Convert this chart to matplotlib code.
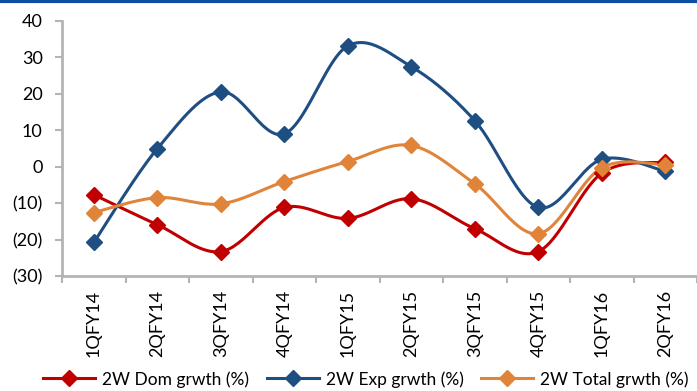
import numpy as np
import matplotlib.pyplot as plt
from matplotlib.lines import Line2D

quarters = ['1QFY14', '2QFY14', '3QFY14', '4QFY14', '1QFY15',
            '2QFY15', '3QFY15', '4QFY15', '1QFY16', '2QFY16']
dom_growth = [-7.7, -15.9, -23.3, -11.2, -14.2, -8.8, -17.0, -23.3, -1.8, 1.2]
exp_growth = [-20.8, 4.9, 20.5, 9.0, 33.1, 27.4, 12.6, -11.2, 2.0, -1.3]
total_growth = [-12.6, -8.5, -10.2, -4.1, 1.4, 5.8, -4.7, -18.4, -0.3, 0.5]

RED = '#C00000'
BLUE = '#1F4E82'
ORANGE = '#E0843A'
GREY = '#B4B4B4'


# Excel-style smoothed line: cubic Bezier segments with Catmull-Rom control points
def smooth(x, y, steps=30):
    x = np.asarray(x, float)
    y = np.asarray(y, float)
    px = np.concatenate([[x[0]], x, [x[-1]]])
    py = np.concatenate([[y[0]], y, [y[-1]]])
    xs, ys = [], []
    t = np.linspace(0, 1, steps)
    for i in range(1, len(px) - 2):
        p0 = np.array([px[i], py[i]])
        p3 = np.array([px[i + 1], py[i + 1]])
        c1 = p0 + (np.array([px[i + 1], py[i + 1]]) - np.array([px[i - 1], py[i - 1]])) / 6
        c2 = p3 - (np.array([px[i + 2], py[i + 2]]) - np.array([px[i], py[i]])) / 6
        b = ((1 - t) ** 3)[:, None] * p0 + (3 * (1 - t) ** 2 * t)[:, None] * c1 \
            + (3 * (1 - t) * t ** 2)[:, None] * c2 + (t ** 3)[:, None] * p3
        xs.extend(b[:, 0])
        ys.extend(b[:, 1])
    return xs, ys


plt.rcParams['font.family'] = ['Lato', 'DejaVu Sans']

fig = plt.figure(figsize=(6.97, 3.91), dpi=100)
ax = fig.add_axes([0.089, 0.294, 0.911, 0.653])

# strip across the top of the figure
fig.add_artist(Line2D([0, 1], [0.997, 0.997], color='#0B4EA2', lw=3,
                      transform=fig.transFigure))

x = np.arange(len(quarters))
series = [(dom_growth, RED, '2W Dom grwth (%)'),
          (exp_growth, BLUE, '2W Exp grwth (%)'),
          (total_growth, ORANGE, '2W Total grwth (%)')]
handles = []
for vals, col, lab in series:
    sx, sy = smooth(x, vals)
    ax.plot(sx, sy, color=col, lw=2.2, zorder=3)
    ax.plot(x, vals, 'D', color=col, ms=8, zorder=4)
    handles.append(Line2D([], [], color=col, lw=2.2, marker='D', ms=8, label=lab))

ax.set_xlim(-0.5, len(quarters) - 0.5)
ax.set_ylim(-30, 40)
ax.set_yticks(range(-30, 41, 10))
ax.set_yticklabels(['(30)', '(20)', '(10)', '0', '10', '20', '30', '40'])
ax.set_xticks(x)
ax.set_xticklabels(quarters, rotation=90)
ax.set_xticks(np.arange(-0.5, len(quarters), 1), minor=True)

for s in ['top', 'right']:
    ax.spines[s].set_visible(False)
for s in ['left', 'bottom']:
    ax.spines[s].set_color(GREY)
    ax.spines[s].set_linewidth(2)

ax.tick_params(axis='y', length=5, width=1.5, color=GREY, labelsize=13, pad=9)
ax.tick_params(axis='x', which='major', length=0, labelsize=13, pad=10)
ax.tick_params(axis='x', which='minor', length=5, width=1.5, color=GREY)

fig.legend(handles=handles, loc='center', bbox_to_anchor=(0.525, 0.03),
           ncol=3, frameon=False, fontsize=12.5, handlelength=3.0,
           handletextpad=0.4, columnspacing=1.0)

fig.savefig('out.png', dpi=100)
